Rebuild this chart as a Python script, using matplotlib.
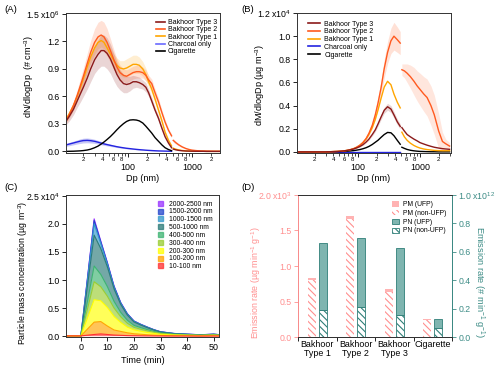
import numpy as np
import matplotlib
matplotlib.use("Agg")
import matplotlib.pyplot as plt
from matplotlib.ticker import FixedLocator, LogLocator, FuncFormatter
from matplotlib.patches import Patch
from matplotlib.lines import Line2D

plt.rcParams['font.family'] = ['Liberation Sans', 'DejaVu Sans']
plt.rcParams['mathtext.fontset'] = 'custom'
plt.rcParams['mathtext.rm'] = 'Liberation Sans'
plt.rcParams['mathtext.default'] = 'regular'
plt.rcParams['hatch.linewidth'] = 0.8
plt.rcParams['axes.linewidth'] = 0.7
plt.rcParams['axes.edgecolor'] = '#333333'

# ---------------- data ----------------
# particle diameters (nm): SMPS range and APS range
d_smps = [10.7, 12, 14, 16, 18, 20, 23, 26, 30, 34, 38, 42, 47, 53, 60, 67, 75, 85, 95,
          107, 120, 135, 150, 170, 190, 210, 235, 265, 300, 340, 380, 430, 480]
d_aps = [510, 560, 620, 700, 800, 900, 1000, 1150, 1300, 1500, 1700, 2000, 2300, 2600, 3000]

# (A) number size distribution, x1e6 # cm-3
n_type3 = [0.33, 0.38, 0.46, 0.55, 0.63, 0.70, 0.80, 0.90, 1.00, 1.06, 1.10, 1.10, 1.07, 1.01, 0.92, 0.84, 0.78,
           0.74, 0.73, 0.74, 0.76, 0.76, 0.75, 0.73, 0.70, 0.64, 0.55, 0.45, 0.36, 0.25, 0.16, 0.09, 0.04]
n_type3_sd = [0.04, 0.05, 0.06, 0.07, 0.09, 0.10, 0.12, 0.14, 0.15, 0.16, 0.17, 0.17, 0.17, 0.16, 0.15, 0.13, 0.11,
              0.10, 0.09, 0.08, 0.07, 0.06, 0.06, 0.05, 0.05, 0.04, 0.04, 0.03, 0.03, 0.02, 0.02, 0.01, 0.01]
n_type2 = [0.33, 0.40, 0.50, 0.61, 0.72, 0.82, 0.96, 1.08, 1.19, 1.25, 1.27, 1.25, 1.19, 1.10, 1.00, 0.92, 0.86,
           0.83, 0.82, 0.84, 0.86, 0.87, 0.87, 0.86, 0.83, 0.78, 0.74, 0.64, 0.54, 0.42, 0.32, 0.23, 0.17]
n_type2_sd = [0.03, 0.04, 0.05, 0.06, 0.08, 0.09, 0.11, 0.13, 0.15, 0.16, 0.16, 0.16, 0.15, 0.13, 0.11, 0.09, 0.08,
              0.07, 0.07, 0.07, 0.07, 0.07, 0.07, 0.06, 0.06, 0.05, 0.05, 0.04, 0.04, 0.03, 0.03, 0.02, 0.02]
n_type1 = [0.35, 0.41, 0.50, 0.60, 0.70, 0.79, 0.92, 1.03, 1.13, 1.19, 1.21, 1.19, 1.13, 1.06, 0.99, 0.94, 0.91,
           0.90, 0.91, 0.93, 0.95, 0.95, 0.94, 0.90, 0.84, 0.76, 0.68, 0.57, 0.45, 0.33, 0.21, 0.12, 0.06]
n_type1_sd = [0.03, 0.03, 0.04, 0.04, 0.05, 0.05, 0.06, 0.06, 0.07, 0.07, 0.07, 0.07, 0.07, 0.07, 0.07, 0.08, 0.08,
              0.09, 0.10, 0.10, 0.10, 0.10, 0.09, 0.08, 0.07, 0.06, 0.05, 0.04, 0.04, 0.03, 0.02, 0.02, 0.01]
n_charcoal = [0.070, 0.080, 0.092, 0.103, 0.112, 0.118, 0.120, 0.117, 0.110, 0.100, 0.090, 0.082, 0.074, 0.066,
              0.058, 0.051, 0.045, 0.039, 0.034, 0.030, 0.026, 0.022, 0.019, 0.016, 0.013, 0.011, 0.009, 0.007,
              0.005, 0.004, 0.003, 0.002, 0.001]
n_charcoal_sd = [0.015, 0.018, 0.020, 0.022, 0.025, 0.026, 0.026, 0.025, 0.022, 0.020, 0.018, 0.016, 0.014, 0.012,
                 0.010, 0.009, 0.008, 0.007, 0.006, 0.005, 0.005, 0.004, 0.004, 0.003, 0.003, 0.002, 0.002, 0.002,
                 0.001, 0.001, 0.001, 0.001, 0.001]
n_cigarette = [0.000, 0.001, 0.002, 0.004, 0.006, 0.009, 0.015, 0.024, 0.040, 0.058, 0.080, 0.102, 0.130, 0.162,
               0.200, 0.236, 0.270, 0.303, 0.327, 0.342, 0.345, 0.342, 0.333, 0.310, 0.275, 0.240, 0.200, 0.150,
               0.110, 0.070, 0.040, 0.020, 0.008]
n_type3_aps = [0.025, 0.017, 0.011, 0.007, 0.004, 0.003, 0.002, 0.001, 0.001, 0.001, 0, 0, 0, 0, 0]
n_type2_aps = [0.120, 0.095, 0.072, 0.050, 0.032, 0.021, 0.014, 0.009, 0.006, 0.004, 0.003, 0.002, 0.001, 0.001, 0.001]
n_type2_aps_sd = [0.02, 0.016, 0.012, 0.009, 0.006, 0.004, 0.003, 0.002, 0.001, 0.001, 0.001, 0, 0, 0, 0]
n_type1_aps = [0.035, 0.024, 0.016, 0.010, 0.006, 0.004, 0.003, 0.002, 0.001, 0.001, 0, 0, 0, 0, 0]

# (B) mass size distribution, x1e4 ug m-3
m_type3 = [0] * 9 + [0.001, 0.002, 0.003, 0.004, 0.006, 0.009, 0.013, 0.018, 0.025, 0.034, 0.046, 0.062, 0.085,
                     0.11, 0.15, 0.19, 0.24, 0.30, 0.36, 0.39, 0.37, 0.32, 0.26, 0.22]
m_type3_sd = [0] * 14 + [0.001, 0.001, 0.002, 0.002, 0.003, 0.004, 0.005, 0.007, 0.009, 0.012, 0.015, 0.018,
                         0.022, 0.026, 0.030, 0.030, 0.028, 0.025, 0.022]
m_type2 = [0] * 9 + [0.001, 0.002, 0.003, 0.004, 0.006, 0.009, 0.013, 0.019, 0.028, 0.04, 0.057, 0.08, 0.115,
                     0.16, 0.23, 0.32, 0.42, 0.55, 0.72, 0.86, 0.96, 1.00, 0.97, 0.94]
m_type2_sd = [0] * 13 + [0.001, 0.001, 0.002, 0.003, 0.004, 0.005, 0.007, 0.010, 0.014, 0.020, 0.028, 0.037,
                         0.050, 0.065, 0.080, 0.095, 0.110, 0.120, 0.110, 0.100]
m_type1 = [0] * 9 + [0.001, 0.002, 0.003, 0.004, 0.006, 0.009, 0.013, 0.019, 0.028, 0.04, 0.057, 0.08, 0.11,
                     0.15, 0.21, 0.28, 0.36, 0.46, 0.56, 0.61, 0.58, 0.50, 0.43, 0.38]
m_charcoal = [0.0] * 33
m_cigarette = [0] * 10 + [0.001, 0.001, 0.002, 0.003, 0.004, 0.006, 0.008, 0.011, 0.015, 0.02, 0.027, 0.036,
                          0.047, 0.064, 0.083, 0.10, 0.125, 0.15, 0.168, 0.165, 0.14, 0.10, 0.066]
m_type3_aps = [0.21, 0.18, 0.15, 0.13, 0.11, 0.095, 0.08, 0.068, 0.058, 0.048, 0.04, 0.033, 0.028, 0.025, 0.022]
m_type2_aps = [0.71, 0.70, 0.68, 0.65, 0.61, 0.57, 0.54, 0.50, 0.47, 0.40, 0.32, 0.18, 0.09, 0.07, 0.05]
m_type2_aps_sd = [0.05, 0.06, 0.08, 0.10, 0.12, 0.13, 0.14, 0.15, 0.16, 0.17, 0.17, 0.15, 0.08, 0.04, 0.03]
m_type1_aps = [0.17, 0.13, 0.10, 0.075, 0.055, 0.042, 0.033, 0.025, 0.02, 0.016, 0.013, 0.011, 0.01, 0.01, 0.01]
m_cigarette_aps = [0.04, 0.03, 0.021, 0.014, 0.009, 0.006, 0.004, 0.003, 0.002, 0.001, 0.001, 0, 0, 0, 0]

# (C) size-resolved mass concentration over time, x1e3 ug m-3
time_min = [-6, 0, 5, 7.5, 10, 12.5, 15, 17.5, 20, 22.5, 25, 27.5, 30, 35, 40, 45, 50, 52]
bins = ['10-100 nm', '100-200 nm', '200-300 nm', '300-400 nm', '400-500 nm',
        '500-1000 nm', '1000-1500 nm', '1500-2000 nm', '2000-2500 nm']
mass_10_100 = [0.05, 0.05, 0.30, 0.40, 0.30, 0.20, 0.15, 0.10, 0.08, 0.06, 0.05, 0.04, 0.03, 0.02, 0.02, 0.01, 0.02, 0.02]
mass_100_200 = [0, 0, 2.20, 2.20, 1.50, 0.90, 0.70, 0.50, 0.35, 0.28, 0.20, 0.15, 0.10, 0.07, 0.05, 0.04, 0.05, 0.04]
mass_200_300 = [0, 0, 4.00, 3.70, 3.30, 2.40, 1.60, 1.00, 0.70, 0.55, 0.40, 0.30, 0.20, 0.12, 0.08, 0.06, 0.08, 0.06]
mass_300_400 = [0, 0, 3.20, 2.50, 2.00, 1.50, 1.00, 0.70, 0.45, 0.35, 0.30, 0.20, 0.15, 0.08, 0.06, 0.04, 0.06, 0.05]
mass_400_500 = [0, 0, 2.80, 2.20, 1.70, 1.20, 0.80, 0.55, 0.35, 0.30, 0.22, 0.15, 0.10, 0.06, 0.04, 0.03, 0.04, 0.03]
mass_500_1000 = [0, 0, 5.50, 4.60, 3.50, 2.20, 1.40, 0.90, 0.60, 0.45, 0.35, 0.25, 0.15, 0.10, 0.07, 0.05, 0.07, 0.05]
mass_1000_1500 = [0, 0, 2.00, 0.90, 0.50, 0.30, 0.20, 0.15, 0.10, 0.08, 0.06, 0.04, 0.03, 0.02, 0.02, 0.01, 0.02, 0.01]
mass_1500_2000 = [0, 0, 0.60, 0.30, 0.20, 0.15, 0.10, 0.07, 0.05, 0.04, 0.03, 0.02, 0.02, 0.01, 0.01, 0.01, 0.01, 0.01]
mass_2000_2500 = [0, 0, 0.30, 0.15, 0.10, 0.08, 0.05, 0.04, 0.03, 0.02, 0.02, 0.01, 0.01, 0.01, 0.01, 0.01, 0.01, 0.01]

# (D) emission rates
sources = ['Bakhoor\nType 1', 'Bakhoor\nType 2', 'Bakhoor\nType 3', 'Cigarette']
pm_nonufp = [800, 1660, 640, 240]          # ug min-1 g-1
pm_ufp = [33, 40, 32, 10]
pn_nonufp = [0.187e12, 0.210e12, 0.154e12, 0.066e12]   # # min-1 g-1
pn_ufp = [0.478e12, 0.490e12, 0.476e12, 0.062e12]

# ---------------- styling ----------------
c_t3, c_t2, c_t1 = '#8b1a1a', '#ff5a1f', '#ffa500'
c_char, c_cig = '#2424e0', 'black'
bin_colors = ['#ff3030', '#ffa500', '#ffff00', '#9acd32', '#3cb371',
              '#2a7a78', '#3399cc', '#2244cc', '#9933ff']
pm_col, pm_ufp_col = '#ff8f8f', '#ffb3b3'
pn_col, pn_edge = '#7fb5b0', '#2f7f78'

fig = plt.figure(figsize=(5.0, 3.67), dpi=100)
axA = fig.add_axes([0.132, 0.583, 0.308, 0.3815])
axB = fig.add_axes([0.594, 0.583, 0.308, 0.3815])
axC = fig.add_axes([0.132, 0.0817, 0.306, 0.387])
axD = fig.add_axes([0.596, 0.0817, 0.308, 0.387])


def minor_fmt(v, pos):
    lead = int(round(v / 10 ** np.floor(np.log10(v))))
    return str(lead) if lead in (2, 4, 6, 8) else ''


def log_x(ax, lo, hi):
    ax.set_xscale('log')
    ax.set_xlim(lo, hi)
    ax.xaxis.set_major_locator(FixedLocator([100, 1000]))
    ax.xaxis.set_major_formatter(FuncFormatter(lambda v, p: '%d' % v))
    ax.xaxis.set_minor_locator(LogLocator(base=10, subs=np.arange(2, 10), numticks=30))
    ax.xaxis.set_minor_formatter(FuncFormatter(minor_fmt))
    ax.tick_params(axis='x', which='major', labelsize=6.4, pad=4.2, length=3, width=0.6)
    ax.tick_params(axis='x', which='minor', labelsize=4.4, pad=0.6, length=2, width=0.5)
    ax.set_xlabel('Dp (nm)', fontsize=6.6)
    ax.xaxis.set_label_coords(0.5, -0.15)


def y_ticks(ax, ticks, scale, exp, fmt='{:.1f}'):
    labels = [fmt.format(t / scale) for t in ticks]
    labels[-1] += ' x10$^{%d}$' % exp
    ax.set_yticks(ticks)
    ax.set_yticklabels(labels)
    ax.tick_params(axis='y', labelsize=6.3, pad=1.5, length=3, width=0.6)


# ---- (A) ----
d1 = np.array(d_smps)
d2 = np.array(d_aps)
for y, sd, col, a in [(n_type1, n_type1_sd, c_t1, 0.18), (n_type2, n_type2_sd, c_t2, 0.18),
                      (n_type3, n_type3_sd, c_t3, 0.18), (n_charcoal, n_charcoal_sd, c_char, 0.25)]:
    y = np.array(y) * 1e6
    sd = np.array(sd) * 1e6
    axA.fill_between(d1, y - sd, y + sd, color=col, alpha=a, lw=0)
y2 = np.array(n_type2_aps) * 1e6
sd2 = np.array(n_type2_aps_sd) * 1e6
axA.fill_between(d2, y2 - sd2, y2 + sd2, color=c_t2, alpha=0.18, lw=0)

axA.plot(d1, np.array(n_type1) * 1e6, color=c_t1, lw=1.0)
axA.plot(d2, np.array(n_type1_aps) * 1e6, color=c_t1, lw=1.0)
axA.plot(d1, np.array(n_type2) * 1e6, color=c_t2, lw=1.0)
axA.plot(d2, y2, color=c_t2, lw=1.0)
axA.plot(d1, np.array(n_type3) * 1e6, color=c_t3, lw=1.0)
axA.plot(d2, np.array(n_type3_aps) * 1e6, color=c_t3, lw=1.0)
axA.plot(d1, np.array(n_charcoal) * 1e6, color=c_char, lw=1.0)
axA.plot(d1, np.array(n_cigarette) * 1e6, color=c_cig, lw=1.0)

log_x(axA, 10.7, 2750)
axA.set_ylim(-0.018e6, 1.51e6)
y_ticks(axA, [0, 0.3e6, 0.6e6, 0.9e6, 1.2e6, 1.5e6], 1e6, 6)
axA.set_ylabel('dN/dlogDp  (# cm$^{-3}$)', fontsize=6.6)
axA.yaxis.set_label_coords(-0.195, 0.55)

names = ['Bakhoor Type 3', 'Bakhoor Type 2', 'Bakhoor Type 1', 'Charcoal only', 'Cigarette']
handles_A = [Line2D([], [], color=c, lw=1.2) for c in [c_t3, c_t2, c_t1, '#6a6aff', c_cig]]
axA.legend(handles_A, names, loc='upper left', bbox_to_anchor=(0.585, 0.957), frameon=False,
           fontsize=5.0, handlelength=1.3, handletextpad=0.4, labelspacing=0.05,
           borderpad=0, borderaxespad=0)

# ---- (B) ----
for y, sd, col in [(m_type2, m_type2_sd, c_t2), (m_type3, m_type3_sd, c_t3)]:
    y = np.array(y) * 1e4
    sd = np.array(sd) * 1e4
    axB.fill_between(d1, y - sd, y + sd, color=col, alpha=0.18, lw=0)
yb2 = np.array(m_type2_aps) * 1e4
sdb2 = np.array(m_type2_aps_sd) * 1e4
axB.fill_between(d2, yb2 - sdb2, yb2 + sdb2, color=c_t2, alpha=0.15, lw=0)

axB.plot(d1, np.array(m_charcoal) * 1e4, color=c_char, lw=1.0)
axB.plot(d1, np.array(m_cigarette) * 1e4, color=c_cig, lw=1.0)
axB.plot(d2, np.array(m_cigarette_aps) * 1e4, color=c_cig, lw=1.0)
axB.plot(d1, np.array(m_type1) * 1e4, color=c_t1, lw=1.0)
axB.plot(d2, np.array(m_type1_aps) * 1e4, color=c_t1, lw=1.0)
axB.plot(d1, np.array(m_type2) * 1e4, color=c_t2, lw=1.0)
axB.plot(d2, yb2, color=c_t2, lw=1.0)
axB.plot(d1, np.array(m_type3) * 1e4, color=c_t3, lw=1.0)
axB.plot(d2, np.array(m_type3_aps) * 1e4, color=c_t3, lw=1.0)

log_x(axB, 10.4, 3160)
axB.set_ylim(-0.01e4, 1.2e4)
y_ticks(axB, [0, 0.2e4, 0.4e4, 0.6e4, 0.8e4, 1.0e4, 1.2e4], 1e4, 4)
axB.set_ylabel('dM/dlogDp (µg m$^{-3}$)', fontsize=6.6)
axB.yaxis.set_label_coords(-0.197, 0.49)

handles_B = [Line2D([], [], color=c, lw=1.2) for c in [c_t3, c_t2, c_t1, c_char, c_cig]]
axB.legend(handles_B, names, loc='upper left', bbox_to_anchor=(0.07, 0.945), frameon=False,
           fontsize=5.0, handlelength=1.8, handletextpad=0.6, labelspacing=0.1,
           borderpad=0, borderaxespad=0)

# ---- (C) ----
layers = np.array([mass_10_100, mass_100_200, mass_200_300, mass_300_400, mass_400_500,
                   mass_500_1000, mass_1000_1500, mass_1500_2000, mass_2000_2500]) * 1e3
axC.stackplot(time_min, layers, colors=bin_colors, alpha=0.65, lw=0)
tops = np.cumsum(layers, axis=0)
for i in range(len(bins) - 1, -1, -1):
    axC.plot(time_min, tops[i], color=bin_colors[i], lw=0.8)

axC.set_xlim(-5.6, 52)
axC.set_ylim(-150, 25150)
axC.set_xticks([0, 10, 20, 30, 40, 50])
axC.tick_params(axis='x', labelsize=6.4, pad=1.5, length=3, width=0.6)
y_ticks(axC, [0, 5000, 10000, 15000, 20000, 25000], 1e4, 4)
axC.set_xlabel('Time (min)', fontsize=6.6)
axC.xaxis.set_label_coords(0.5, -0.135)
axC.set_ylabel('Particle mass concentration (µg m$^{-3}$)', fontsize=6.3)
axC.yaxis.set_label_coords(-0.235, 0.45)

handles_C = [Patch(facecolor=bin_colors[i], alpha=0.75, edgecolor=bin_colors[i])
             for i in range(len(bins) - 1, -1, -1)]
axC.legend(handles_C, bins[::-1], loc='upper left', bbox_to_anchor=(0.6, 0.96), frameon=False,
           fontsize=4.9, handlelength=0.75, handleheight=0.75, handletextpad=0.9,
           labelspacing=0.12, borderpad=0, borderaxespad=0)

# ---- (D) ----
x = np.arange(len(sources))
w = 0.21
axD.bar(x - 0.145, pm_nonufp, w, color='white', edgecolor=pm_col, lw=0, hatch='\\' * 5)
axD.bar(x - 0.145, pm_ufp, w, bottom=pm_nonufp, color=pm_ufp_col, lw=0)
axD2 = axD.twinx()
axD2.bar(x + 0.145, pn_nonufp, w, color='white', edgecolor=pn_edge, lw=0.6, hatch='\\' * 5)
axD2.bar(x + 0.145, pn_ufp, w, bottom=pn_nonufp, color=pn_col, edgecolor=pn_edge, lw=0.6)

axD.set_xlim(-0.5, 3.5)
axD.set_xticks(x)
axD.set_xticklabels(sources, fontsize=6.4, linespacing=1.0)
axD.set_xticks([-0.5, 0.5, 1.5, 2.5, 3.5], minor=True)
axD.tick_params(axis='x', which='major', length=0, pad=2.5)
axD.tick_params(axis='x', which='minor', length=3, width=0.6)
axD.set_ylim(0, 2000)
axD2.set_ylim(0, 1e12)
y_ticks(axD, [0, 500, 1000, 1500, 2000], 1e3, 3)
y_ticks(axD2, [0, 0.2e12, 0.4e12, 0.6e12, 0.8e12, 1.0e12], 1e12, 12)
axD.tick_params(axis='y', colors=pm_col)
axD2.tick_params(axis='y', colors='#3d8c86')
axD2.spines['left'].set_color(pm_col)
axD2.spines['right'].set_color('#3d8c86')
axD.set_ylabel('Emission rate (µg min$^{-1}$ g$^{-1}$)', fontsize=6.4, color=pm_col)
axD.yaxis.set_label_coords(-0.225, 0.38)
axD2.set_ylabel('Emission rate (# min$^{-1}$ g$^{-1}$)', fontsize=6.7, color='#3d8c86', rotation=270)
axD2.yaxis.set_label_coords(1.225, 0.39)

handles_D = [Patch(facecolor=pm_ufp_col, lw=0),
             Patch(facecolor='white', edgecolor=pm_col, lw=0, hatch='\\' * 5),
             Patch(facecolor=pn_col, edgecolor=pn_edge, lw=0.6),
             Patch(facecolor='white', edgecolor=pn_edge, lw=0.6, hatch='\\' * 5)]
axD2.legend(handles_D, ['PM (UFP)', 'PM (non-UFP)', 'PN (UFP)', 'PN (non-UFP)'],
            loc='upper left', bbox_to_anchor=(0.612, 0.955), frameon=False, fontsize=4.9,
            handlelength=1.0, handleheight=0.8, handletextpad=0.6, labelspacing=0.25,
            borderpad=0, borderaxespad=0)

# panel letters
for lab, px, py in [('(A)', 4, 10), ('(B)', 241, 10), ('(C)', 4, 188), ('(D)', 241, 188)]:
    fig.text(px / 500, 1 - py / 367, lab, fontsize=6.8, va='center', ha='left')

fig.savefig('out.png', dpi=100)
